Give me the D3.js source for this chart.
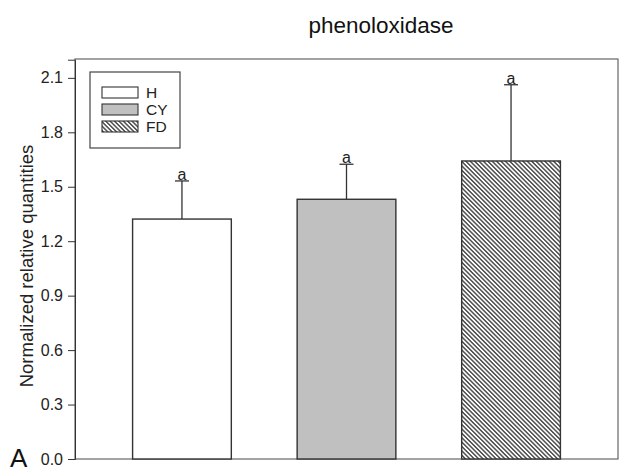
<!DOCTYPE html>
<html><head><meta charset="utf-8">
<script src="https://cdn.jsdelivr.net/npm/d3@7"></script>
<style>body{margin:0;background:#fff;}svg{display:block;font-family:Arial,"Liberation Sans",sans-serif;}</style>
</head><body><svg id="c" width="638" height="476"></svg>
<script>
const categories = ["H", "CY", "FD"];
const values = [1.322, 1.431, 1.642];
const errors = [0.21, 0.193, 0.42];
const letters = ["a", "a", "a"];
const yTicks = [0.0, 0.3, 0.6, 0.9, 1.2, 1.5, 1.8, 2.1];
const title = "phenoloxidase";
const yLabel = "Normalized relative quantities";

const svg = d3.select("#c");
const L = 75, R = 618, T = 59, B = 459;
const y = d3.scaleLinear().domain([0, 2.2]).range([B, B - 2.2 * 181.5]);
const x = d3.scaleBand().domain(categories).range([L, R]).paddingInner(0.4).paddingOuter(0.35);

const defs = svg.append("defs");
const pw = 3.1;
const pat = defs.append("pattern").attr("id", "hatch").attr("patternUnits", "userSpaceOnUse")
  .attr("width", pw).attr("height", pw).attr("patternTransform", "rotate(-45)");
pat.append("rect").attr("width", pw).attr("height", pw).attr("fill", "#fff");
pat.append("line").attr("x1", pw / 2).attr("y1", 0).attr("x2", pw / 2).attr("y2", pw)
  .attr("stroke", "#333").attr("stroke-width", 1.3);
const fills = {H: "#ffffff", CY: "#c0c0c0", FD: "url(#hatch)"};

// frame
svg.append("rect").attr("x", L).attr("y", T).attr("width", R - L).attr("height", B - T)
  .attr("fill", "none").attr("stroke", "#666").attr("stroke-width", 1.2);

// y axis
const yAxis = d3.axisLeft(y).tickValues(yTicks).tickFormat(d3.format(".1f")).tickSize(7).tickPadding(5);
const ga = svg.append("g").attr("transform", `translate(${L},0)`).call(yAxis);
ga.attr("font-size", 16).attr("font-family", "Arial, 'Liberation Sans', sans-serif");
ga.select(".domain").attr("stroke", "#333");
ga.selectAll(".tick line").attr("stroke", "#333");
ga.selectAll(".tick text").attr("fill", "#222");

// bars
const g = svg.append("g");
categories.forEach((c, i) => {
  const cx = x(c) + x.bandwidth() / 2;
  const top = y(values[i] + errors[i]);
  g.append("line").attr("x1", cx).attr("x2", cx).attr("y1", y(values[i])).attr("y2", top)
    .attr("stroke", "#333").attr("stroke-width", 1.3);
  g.append("line").attr("x1", cx - 7).attr("x2", cx + 7).attr("y1", top).attr("y2", top)
    .attr("stroke", "#333").attr("stroke-width", 1.3);
  g.append("text").attr("x", cx).attr("y", top - 1).attr("text-anchor", "middle")
    .attr("font-size", 16).attr("fill", "#222").text(letters[i]);
  g.append("rect").attr("x", x(c)).attr("y", y(values[i])).attr("width", x.bandwidth())
    .attr("height", y(0) - y(values[i])).attr("fill", fills[c]).attr("stroke", "#333").attr("stroke-width", 1.4);
});

// legend
const lg = svg.append("g");
lg.append("rect").attr("x", 90).attr("y", 72).attr("width", 90).attr("height", 76)
  .attr("fill", "#fff").attr("stroke", "#444").attr("stroke-width", 1.2);
categories.forEach((c, i) => {
  const yy = 87 + i * 17;
  lg.append("rect").attr("x", 102).attr("y", yy).attr("width", 36).attr("height", 11)
    .attr("fill", fills[c]).attr("stroke", "#333").attr("stroke-width", 1.1);
  lg.append("text").attr("x", 146).attr("y", yy + 11).attr("font-size", 15.5).attr("fill", "#222").text(c);
});

// title
svg.append("text").attr("x", 381).attr("y", 33).attr("text-anchor", "middle")
  .attr("font-size", 22.5).attr("fill", "#111").text(title);
// y label
svg.append("text").attr("transform", `translate(33,266) rotate(-90)`)
  .attr("text-anchor", "middle").attr("font-size", 18.5).attr("fill", "#222").text(yLabel);
// panel letter
svg.append("text").attr("x", 10).attr("y", 467).attr("font-size", 26).attr("fill", "#111").text("A");
</script></body></html>
